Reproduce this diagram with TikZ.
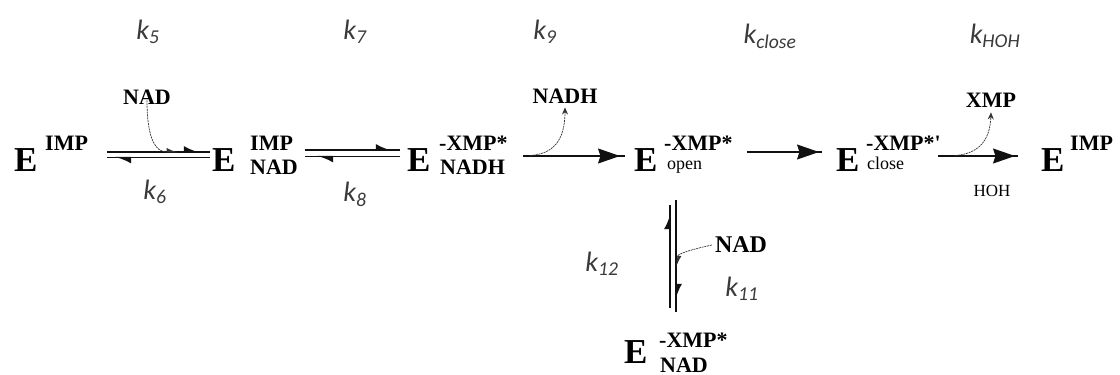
\documentclass[tikz,border=0pt]{standalone}
\usepackage{fontspec}
\setmainfont{Liberation Serif}
\newfontfamily\kfont{Carlito}
\usetikzlibrary{arrows.meta,decorations.markings}
\definecolor{kgray}{HTML}{3A3A3A}
\definecolor{lgray}{HTML}{111111}
\tikzset{
  bigE/.style={font=\fontsize{35}{35}\selectfont\bfseries, inner sep=0pt, anchor=base west},
  scr/.style={font=\fontsize{22}{22}\selectfont\bfseries, inner sep=0pt, anchor=base west},
  smallscr/.style={font=\fontsize{18}{18}\selectfont, inner sep=0pt, anchor=base west},
  mol/.style={font=\fontsize{22}{22}\selectfont\bfseries, inner sep=0pt},
  molsmall/.style={font=\fontsize{17}{17}\selectfont, inner sep=0pt},
  klab/.style={font=\fontsize{28}{28}\selectfont\kfont\itshape, text=kgray, inner sep=0pt},
  ln/.style={line width=1.2pt, draw=lgray},
  harpmark/.style={ln, decoration={markings,
      mark=at position #1 with {\arrow{Latex[left,length=14pt,width=12pt]}}},
      postaction={decorate}},
  fwd/.style={ln, decoration={markings,
      mark=at position #1 with {\arrow{Stealth[length=22pt,width=15pt,inset=2.5pt]}}},
      postaction={decorate}},
  cur/.style={line width=0.7pt, draw=gray!40!black, dash pattern=on 2pt off 0.8pt,
      -{Stealth[length=7pt,width=6pt]}},
  curh/.style={line width=0.7pt, draw=gray!40!black, dash pattern=on 2pt off 0.8pt,
      -{Latex[left,length=10pt,width=8pt]}},
}
\begin{document}
\begin{tikzpicture}[x=1pt,y=-1pt]
\useasboundingbox (0,0) rectangle (1120,375);

% rate constants
\node[klab] (k5) at (148,32) {k\textsubscript{5}};
\node[klab] (k7) at (355,32) {k\textsubscript{7}};
\node[klab] (k9) at (545,32) {k\textsubscript{9}};
\node[klab] (kc) at (770,36) {k\textsubscript{close}};
\node[klab] (kh) at (995,36) {k\textsubscript{HOH}};
\node[klab] (k6) at (155,192) {k\textsubscript{6}};
\node[klab] (k8) at (355,194) {k\textsubscript{8}};
\node[klab] (k12) at (602,264) {k\textsubscript{12}};
\node[klab] (k11) at (742,289) {k\textsubscript{11}};

% species
\node[bigE] (e1) at (14,171) {E};
\node[scr]  (e1s) at (45,150) {IMP};

\node[bigE] (e2) at (212,171) {E};
\node[scr]  (e2s) at (250,150) {IMP};
\node[scr]  (e2b) at (250,174) {NAD};

\node[bigE] (e3) at (407,171) {E};
\node[scr]  (e3s) at (439,150) {-XMP*};
\node[scr]  (e3b) at (440,174) {NADH};

\node[bigE] (e4) at (634,171) {E};
\node[scr]  (e4s) at (664,150) {-XMP*};
\node[smallscr] (e4b) at (667,169) {open};

\node[bigE] (e5) at (836,171) {E};
\node[scr]  (e5s) at (866,150) {-XMP*\textquotesingle};
\node[smallscr] (e5b) at (867,169) {close};

\node[bigE] (e6) at (1041,171) {E};
\node[scr]  (e6s) at (1070,150) {IMP};

\node[bigE] (e7) at (624,363) {E};
\node[scr]  (e7s) at (659,347) {-XMP*};
\node[scr]  (e7b) at (660,372) {NAD};

% small molecules
\node[mol] (nad1) at (147,97) {NAD};
\node[mol] (nadh) at (565,96) {NADH};
\node[mol] (xmp) at (991,100) {XMP};
\node[molsmall] (hoh) at (992,191) {HOH};
\node[mol, font=\fontsize{24}{24}\selectfont\bfseries] (nad2) at (741,245) {NAD};

% E-IMP <=> E-IMP-NAD  (lines at y=152 and y=157.5)
\draw[harpmark=-10pt] ([shift={(-105,-19)}]e2.base west) -- ([shift={(-2,-19)}]e2.base west);
\draw[harpmark=-8pt] ([shift={(-2,-13.5)}]e2.base west) -- ([shift={(-105,-13.5)}]e2.base west);
\draw[curh] ([yshift=4pt]nad1.south) .. controls (147,140) and (156,152) .. (178,152);

% E-IMP-NAD <=> E-XMP-NADH (lines at y=150 and y=156.5)
\draw[harpmark=-8pt] ([shift={(-102,-21)}]e3.base west) -- ([shift={(-7,-21)}]e3.base west);
\draw[harpmark=-12pt] ([shift={(-7,-14.5)}]e3.base west) -- ([shift={(-102,-14.5)}]e3.base west);

% -> E open
\draw[fwd=-5pt] ([shift={(18,-18)}]e3b.base east) -- ([shift={(-9,-15)}]e4.base west);
\draw[cur] (530,155.5) .. controls (552,154) and (565,142) .. ([yshift=-4pt]nadh.south);

% -> E close
\draw[fwd=-3pt] ([shift={(14,2)}]e4s.base east) -- ([shift={(-14,-19)}]e5.base west);

% -> E IMP
\draw[fwd=-3pt] ([shift={(-3,6)}]e5s.base east) -- ([shift={(-23,-15)}]e6.base west);
\draw[cur] (955,155.5) .. controls (977,154) and (990,142) .. ([yshift=-5pt]xmp.south);

% vertical E open <=> E-XMP-NAD
\draw[harpmark=-8pt] ([shift={(36,137)}]e4.base west) -- ([shift={(36,34)}]e4.base west);
\draw[harpmark=-12pt] ([shift={(42,29)}]e4.base west) -- ([shift={(42,141)}]e4.base west);
\draw[curh] ([xshift=-3pt]nad2.west) .. controls (684,251) and (677.5,255) .. (676.5,267);
\end{tikzpicture}
\end{document}
